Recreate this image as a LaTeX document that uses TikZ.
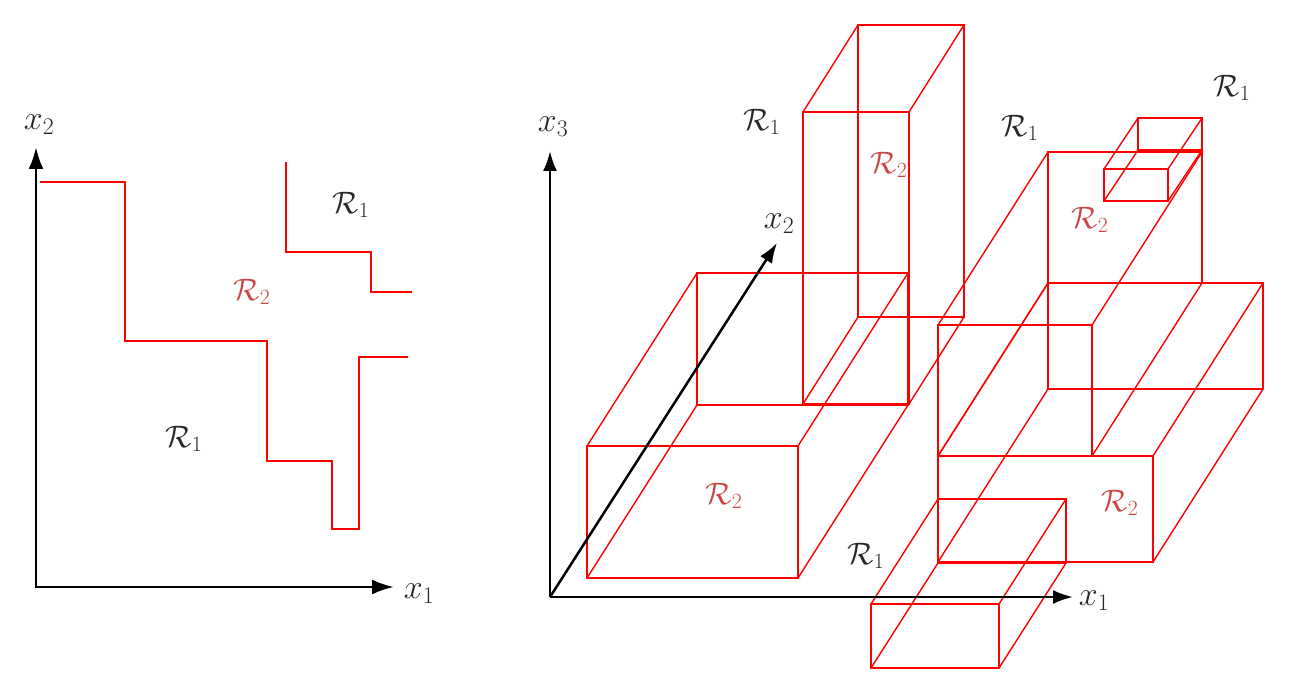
\RequirePackage{fix-cm}
\documentclass[tikz,border=0pt]{standalone}
\usetikzlibrary{arrows.meta}
\definecolor{regred}{RGB}{255,0,0}
\definecolor{labred}{RGB}{205,70,70}
\definecolor{labdark}{RGB}{40,40,40}
\newcommand\drawcuboid[6]{%
  \draw[boxline] (#1,#2) rectangle ++(#3,-#4);
  \draw[boxline] (#1+#5,#2+#6) rectangle ++(#3,-#4);
  \draw[boxline] (#1,#2) -- ++(#5,#6) (#1+#3,#2) -- ++(#5,#6)
                 (#1,#2-#4) -- ++(#5,#6) (#1+#3,#2-#4) -- ++(#5,#6);}
\begin{document}
\begin{tikzpicture}[x=1pt,y=-1pt,
  axis/.style={line width=2.8pt,line join=miter,{Latex[length=22pt,width=15pt]}-{Latex[length=22pt,width=15pt]}},
  axisthree/.style={line width=2.5pt,-{Latex[length=20pt,width=14pt]}},
  border/.style={regred,line width=2.8pt,line join=miter},
  boxline/.style={regred,line width=1.4pt},
  axlab/.style={inner sep=0pt,labdark,font=\fontsize{34}{40}\selectfont},
  rone/.style={inner sep=0pt,labdark,font=\fontsize{31}{37}\selectfont},
  rtwo/.style={inner sep=0pt,labred,font=\fontsize{31}{37}\selectfont}]
\useasboundingbox (0,0) rectangle (1312,682);

% ---------- left panel ----------
\draw[border] (40,182) -- (125,182) -- (125,341) -- (267,341) -- (267,461)
  -- (332,461) -- (332,529) -- (359,529) -- (359,357) -- (408,357);
\draw[border] (286,162) -- (286,252) -- (371,252) -- (371,292) -- (412,292);
\coordinate (lo) at (36,587);
\coordinate (ly) at (36,147);
\coordinate (lx) at (394,587);
\draw[axis] (ly) -- (lo) -- (lx);
\node[axlab] (lx2) at (39,125) {$x_2$};
\node[axlab] (lx1) at (419,594) {$x_1$};
\node[rone] (lra) at (351,205) {$\mathcal{R}_1$};
\node[rtwo] (lrb) at (252,292) {$\mathcal{R}_2$};
\node[rone] (lrc) at (184,439) {$\mathcal{R}_1$};

% ---------- right panel ----------
\drawcuboid{587}{578}{211}{132}{110}{-173}   % A
\drawcuboid{803}{404}{106}{292}{55}{-87}     % B
\drawcuboid{938}{562}{215}{106}{110}{-173}   % C
\drawcuboid{938}{456}{154}{131}{110}{-173}   % D
\drawcuboid{871}{668}{128}{64}{67}{-105}     % E
\drawcuboid{1104}{201}{64}{32}{34}{-51}      % G

\coordinate (ro) at (550,597);
\coordinate (rz) at (550,151);
\coordinate (ry) at (777,243);
\coordinate (rx) at (1073,597);
\draw[axisthree] (ro) -- (rz);
\draw[axisthree] (ro) -- (ry);
\draw[axisthree] (ro) -- (rx);
\node[axlab] (rx3) at (553,127) {$x_3$};
\node[axlab] (rx2) at (779,224) {$x_2$};
\node[axlab] (rx1) at (1094,601) {$x_1$};

\node[rone] (rra) at (762,122) {$\mathcal{R}_1$};
\node[rtwo] (rrb) at (889,165) {$\mathcal{R}_2$};
\node[rone] (rrc) at (1020,128) {$\mathcal{R}_1$};
\node[rone] (rrd) at (1232,88) {$\mathcal{R}_1$};
\node[rtwo] (rre) at (1090,220) {$\mathcal{R}_2$};
\node[rtwo] (rrf) at (724,496) {$\mathcal{R}_2$};
\node[rone] (rrg) at (866,556) {$\mathcal{R}_1$};
\node[rtwo] (rrh) at (1120,503) {$\mathcal{R}_2$};
\end{tikzpicture}
\end{document}
